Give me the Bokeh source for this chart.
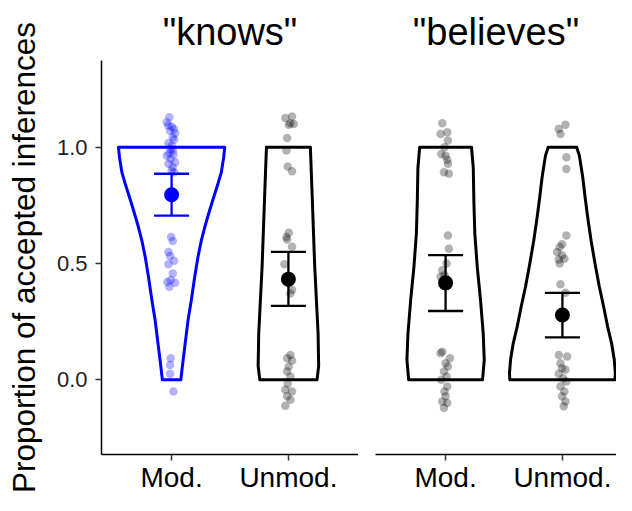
from bokeh.plotting import figure
from bokeh.layouts import row
from bokeh.models import Range1d, FixedTicker, PrintfTickFormatter, ColumnDataSource
from bokeh.embed import file_html
from bokeh.resources import INLINE

# ---------------- data ----------------
facets = ['"knows"', '"believes"']
conditions = ["Mod.", "Unmod."]
cond_pos = [1, 2]
y_label = "Proportion of accepted inferences"
y_ticks = [0.0, 0.5, 1.0]

# group means and 95% CI (knows Mod., knows Unmod., believes Mod., believes Unmod.)
mean_knows = [0.796, 0.433]
lower_knows = [0.706, 0.318]
upper_knows = [0.886, 0.550]
mean_believes = [0.417, 0.279]
lower_believes = [0.296, 0.183]
upper_believes = [0.536, 0.374]

# violin outlines: levels (response) and half-widths (in category units)
vio_knows_mod_y = [0, 0.057, 0.143, 0.257, 0.343, 0.443, 0.529, 0.600, 0.657, 0.729, 0.786,
                   0.843, 0.893, 0.957, 1.0]
vio_knows_mod_w = [0.079, 0.092, 0.113, 0.141, 0.169, 0.198, 0.226, 0.255, 0.284, 0.326, 0.361,
                   0.397, 0.426, 0.446, 0.455]
vio_knows_unmod_y = [0, 0.06, 0.2, 0.49, 0.77, 1.0]
vio_knows_unmod_w = [0.245, 0.259, 0.254, 0.225, 0.205, 0.188]
vio_bel_mod_y = [0, 0.086, 0.2, 0.343, 0.486, 0.63, 0.77, 0.91, 1.0]
vio_bel_mod_w = [0.316, 0.331, 0.322, 0.299, 0.271, 0.250, 0.242, 0.237, 0.222]
vio_bel_unmod_y = [0, 0.029, 0.086, 0.157, 0.229, 0.314, 0.4, 0.5, 0.6, 0.7, 0.786, 0.871,
                   0.964, 1.0]
vio_bel_unmod_w = [0.450, 0.453, 0.444, 0.421, 0.387, 0.353, 0.316, 0.279, 0.245, 0.216, 0.194,
                   0.174, 0.145, 0.122]

# jittered participant points: horizontal jitter (category units) and value
pts_knows_mod_dx = [-0.019, -0.041, -0.027, 0.001, 0.021, -0.013, 0.030, 0.010, 0.021, -0.027, 0.001,
                    -0.007, 0.010, -0.019, 0.016, -0.041, -0.007, 0.030, -0.027, 0.010, 0.001, 0.021,
                    -0.004, 0.010, -0.027, -0.013, 0.021, -0.027, 0.010, -0.007, -0.036, 0.030, -0.019,
                    -0.007, -0.013, -0.013, 0.016]
pts_knows_mod_y = [1.129, 1.107, 1.093, 1.088, 1.078, 1.071, 1.060, 1.043, 1.032, 1.017, 1.007,
                   0.993, 0.986, 0.974, 0.969, 0.964, 0.950, 0.936, 0.929, 0.914, 0.900, 0.893,
                   0.614, 0.597, 0.550, 0.532, 0.512, 0.497, 0.457, 0.429, 0.421, 0.417, 0.400,
                   0.093, 0.064, 0.026, -0.050]
pts_knows_unmod_dx = [-0.026, 0.031, 0.017, 0.003, 0.046, -0.011, -0.017, -0.006, 0.031,
                      0.003, -0.017, -0.011, 0.031, -0.034, 0.031, 0.017,
                      0.017, -0.011, 0.031, 0.003, -0.011, 0.017, -0.006, -0.026, 0.031, -0.011,
                      0.017, -0.026]
pts_knows_unmod_y = [1.126, 1.132, 1.103, 1.097, 1.100, 1.040, 0.986, 0.917, 0.897,
                     0.632, 0.614, 0.603, 0.572, 0.497, 0.386, 0.371,
                     0.107, 0.093, 0.083, 0.057, 0.036, 0.014, -0.017, -0.043, -0.050, -0.071,
                     -0.086, -0.111]
pts_bel_mod_dx = [-0.028, -0.043, 0.014, 0.020, -0.009, -0.037, 0.000, 0.014, 0.020, -0.014, 0.028,
                  0.020, 0.028, 0.009, -0.028, -0.009, -0.043,
                  -0.028, -0.043, 0.037, 0.000, 0.020, -0.014, 0.009, -0.037, 0.014, -0.009,
                  0.000, -0.028, 0.014, -0.014]
pts_bel_mod_y = [1.103, 1.057, 1.064, 1.029, 1.000, 0.971, 0.964, 0.946, 0.929, 0.893, 0.886,
                 0.621, 0.564, 0.500, 0.471, 0.450, 0.443,
                 0.121, 0.114, 0.093, 0.071, 0.057, 0.036, 0.014, 0.000, -0.029, -0.050,
                 -0.071, -0.093, -0.100, -0.121]
pts_bel_unmod_dx = [0.026, -0.031, -0.017, 0.034, 0.034,
                    0.034, -0.003, -0.023, -0.046, -0.003, -0.031, 0.017, -0.023, -0.017, 0.026,
                    -0.031, 0.040, -0.017, -0.003, 0.026, -0.031, 0.006, 0.034, -0.017, 0.017,
                    -0.003, 0.026, 0.011]
pts_bel_unmod_y = [1.097, 1.079, 1.057, 0.957, 0.907,
                   0.621, 0.583, 0.571, 0.550, 0.536, 0.517, 0.521, 0.500, 0.411, 0.374,
                   0.107, 0.100, 0.071, 0.050, 0.043, 0.026, 0.007, -0.007, -0.029, -0.050,
                   -0.071, -0.093, -0.114]

# ---------------- styling ----------------
FONT = "Liberation Sans"
Y_RANGE = (-0.321, 1.373)
BLUE = "#0000FF"
BLACK = "#000000"


def violin(p, pos, ys, ws, color):
    xs = [pos + w for w in ws] + [pos - w for w in reversed(ws)]
    yy = list(ys) + list(reversed(ys))
    p.patch(xs, yy, fill_color=None, line_color=color, line_width=3, line_join="round")


def points(p, pos, dx, ys, color):
    src = ColumnDataSource(dict(x=[pos + d for d in dx], y=ys))
    p.scatter("x", "y", source=src, size=8.5, fill_color=color, fill_alpha=0.3,
              line_color=None)


def errbar(p, pos, m, lo, hi, color):
    src = ColumnDataSource(dict(x=[pos], m=[m], lo=[lo], hi=[hi],
                                xl=[pos - 0.15], xr=[pos + 0.15]))
    p.segment(x0="x", x1="x", y0="lo", y1="hi", source=src, line_color=color, line_width=2.3)
    p.segment(x0="xl", x1="xr", y0="lo", y1="lo", source=src, line_color=color, line_width=2.3)
    p.segment(x0="xl", x1="xr", y0="hi", y1="hi", source=src, line_color=color, line_width=2.3)
    p.scatter(x="x", y="m", source=src, size=15, fill_color=color, line_color=None)


def style(p, title, offset):
    p.title.text = title
    p.title.text_font = FONT
    p.title.text_font_size = "38px"
    p.title.text_font_style = "normal"
    p.title.text_color = "black"
    p.title.align = "center"
    p.title.vertical_align = "top"
    p.title.standoff = 12
    p.title.offset = offset
    p.xgrid.visible = False
    p.ygrid.visible = False
    p.outline_line_color = None
    p.background_fill_color = "white"
    p.border_fill_color = "white"
    ax = p.xaxis[0]
    ax.ticker = FixedTicker(ticks=cond_pos)
    ax.major_label_overrides = {cond_pos[i]: conditions[i] for i in range(2)}
    ax.major_label_text_font = FONT
    ax.major_label_text_font_size = "28px"
    ax.major_label_text_color = "black"
    ax.major_label_standoff = 1
    ax.axis_line_color = "black"
    ax.axis_line_width = 1.5
    ax.major_tick_line_color = "#333333"
    ax.major_tick_line_width = 1.5
    ax.major_tick_out = 6
    ax.major_tick_in = 0
    ax.minor_tick_line_color = None


p1 = figure(width=358, height=495, x_range=Range1d(0.4, 2.6), y_range=Range1d(*Y_RANGE),
            output_backend="svg", toolbar_location=None,
            min_border_left=101, min_border_right=0, min_border_top=60, min_border_bottom=10)
p2 = figure(width=258, height=495, x_range=Range1d(0.4, 2.463), y_range=Range1d(*Y_RANGE),
            output_backend="svg", toolbar_location=None, y_axis_location=None,
            min_border_left=17, min_border_right=0, min_border_top=60, min_border_bottom=10)
style(p1, facets[0], 0)
style(p2, facets[1], 7)

ya = p1.yaxis[0]
ya.ticker = FixedTicker(ticks=y_ticks)
ya.formatter = PrintfTickFormatter(format="%.1f")
ya.major_label_text_font = FONT
ya.major_label_text_font_size = "22px"
ya.major_label_text_color = "#222222"
ya.major_label_standoff = 8
ya.axis_line_color = "black"
ya.axis_line_width = 1.5
ya.major_tick_line_color = "#333333"
ya.major_tick_line_width = 1.5
ya.major_tick_out = 6
ya.major_tick_in = 0
ya.minor_tick_line_color = None
ya.axis_label = y_label
ya.axis_label_text_font = FONT
ya.axis_label_text_font_size = "31.5px"
ya.axis_label_text_font_style = "normal"
ya.axis_label_text_color = "black"
ya.axis_label_standoff = 12

# knows panel
violin(p1, cond_pos[0], vio_knows_mod_y, vio_knows_mod_w, BLUE)
violin(p1, cond_pos[1], vio_knows_unmod_y, vio_knows_unmod_w, BLACK)
points(p1, cond_pos[0], pts_knows_mod_dx, pts_knows_mod_y, BLUE)
points(p1, cond_pos[1], pts_knows_unmod_dx, pts_knows_unmod_y, BLACK)
errbar(p1, cond_pos[0], mean_knows[0], lower_knows[0], upper_knows[0], BLUE)
errbar(p1, cond_pos[1], mean_knows[1], lower_knows[1], upper_knows[1], BLACK)

# believes panel
violin(p2, cond_pos[0], vio_bel_mod_y, vio_bel_mod_w, BLACK)
violin(p2, cond_pos[1], vio_bel_unmod_y, vio_bel_unmod_w, BLACK)
points(p2, cond_pos[0], pts_bel_mod_dx, pts_bel_mod_y, BLACK)
points(p2, cond_pos[1], pts_bel_unmod_dx, pts_bel_unmod_y, BLACK)
errbar(p2, cond_pos[0], mean_believes[0], lower_believes[0], upper_believes[0], BLACK)
errbar(p2, cond_pos[1], mean_believes[1], lower_believes[1], upper_believes[1], BLACK)

layout = row(p1, p2)
open("out.html", "w").write(file_html(layout, INLINE))
